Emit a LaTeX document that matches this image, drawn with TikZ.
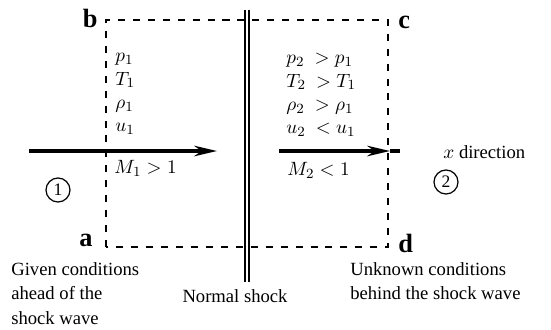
\documentclass[tikz,border=0pt]{standalone}
\usepackage{fontspec}
\setmainfont{Liberation Serif}
\usepackage{amsmath}
\usetikzlibrary{arrows.meta,positioning}

\tikzset{
  boxline/.style={line width=1.6pt, dash pattern=on 4pt off 4.5pt},
  flowarrow/.style={line width=1.8pt, -{Stealth[length=13pt,width=6pt]}},
  corner/.style={font=\fontsize{15}{15}\selectfont\bfseries, inner sep=0pt},
  region/.style={draw, circle, line width=0.7pt, inner sep=0pt, minimum size=0.48cm},
  caption/.style={align=left, font=\fontsize{10.6}{14}\selectfont, inner sep=0pt},
  props/.style={align=left, font=\fontsize{11}{13.3}\selectfont, inner sep=0pt},
}

\begin{document}
\begin{tikzpicture}[x=0.02cm, y=-0.02cm]
\useasboundingbox (0,0) rectangle (551,329);
% control volume
\coordinate (a) at (106,247);
\coordinate (b) at (106,20);
\coordinate (c) at (388,20);
\coordinate (d) at (388,247);
\draw[boxline] (a) -- (b) -- (c) -- (d) -- cycle;
\node[corner, anchor=east] (la) at (93,240) {a};
\node[corner, anchor=east] (lb) at (98,18) {b};
\node[corner, anchor=west] (lc) at (398,22) {c};
\node[corner, anchor=west] (ld) at (398,243) {d};
% shock
\coordinate (shocktop) at (247,10);
\coordinate (shockbot) at (247,282);
\draw[double, line width=0.8pt, double distance=1.6pt] (shocktop) -- (shockbot);
% flow
\coordinate (in1) at (29,151);
\coordinate (in2) at (217,151);
\draw[flowarrow] (in1) -- (in2);
\coordinate (out1) at (279,151);
\coordinate (out2) at (390,151);
\coordinate (out3) at (400,151);
\draw[flowarrow] (out1) -- (out2);
\draw[line width=1.8pt] (out2) -- (out3);
% states
\node[props, anchor=north west] (up) at (115,53) {$p_1$\\ $T_1$\\ $\rho_1$\\ $u_1$};
\node[props, anchor=west] (mup) at (114,168) {$M_1 > 1$};
\node[props, anchor=north west] (down) at (286,53) {$p_2\ > p_1$\\ $T_2\ > T_1$\\ $\rho_2\ > \rho_1$\\ $u_2\ < u_1$};
\node[props, anchor=west] (mdown) at (287,170) {$M_2 < 1$};
\node[region] (s1) at (58,190) {1};
\node[region] (s2) at (446,182) {2};
\node[caption, anchor=west] (xdir) at (443,152) {$x$ direction};
% captions
\node[caption, anchor=north west] (given) at (11,262) {Given conditions\\ ahead of the\\ shock wave};
\node[caption] (shock) at (235,296) {Normal shock};
\node[caption, anchor=north west] (unknown) at (350,262) {Unknown conditions\\ behind the shock wave};
\end{tikzpicture}
\end{document}
